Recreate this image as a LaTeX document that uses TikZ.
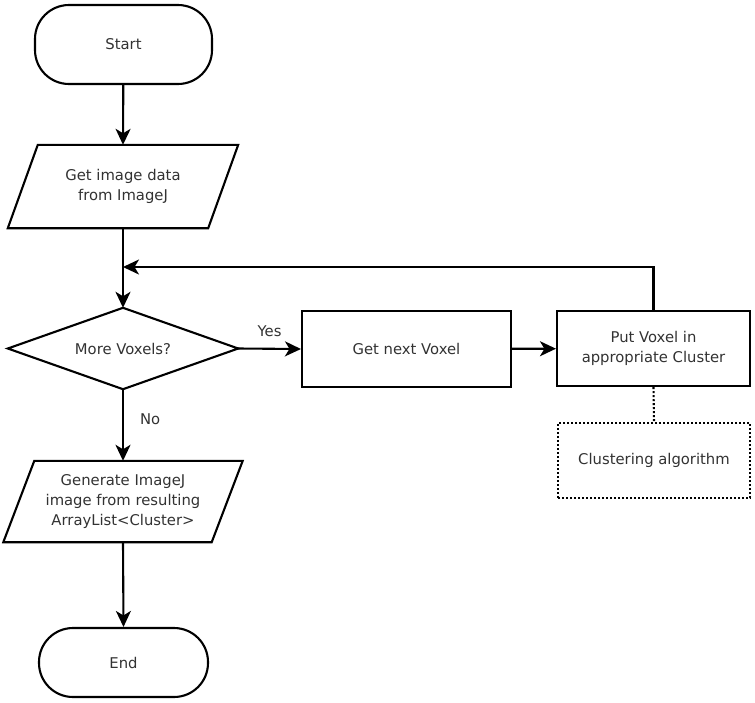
\documentclass[tikz,border=0pt]{standalone}
\usepackage{fontspec}
\setmainfont{DejaVu Sans}
\usetikzlibrary{arrows.meta,calc}
\definecolor{txt}{RGB}{50,50,50}
\tikzset{
  base/.style={font=\fontsize{14.8}{19.8}\selectfont, text=txt, align=center, inner sep=0pt},
  term/.style={base, draw, line width=2.1pt, rounded corners=34pt},
  proc/.style={base, draw, line width=2.1pt},
  hidden/.style={base, draw=none},
  dotbox/.style={base, draw, line width=2.1pt, dash pattern=on 2pt off 2pt},
  flow/.style={line width=2.1pt, -{Stealth[length=16pt,width=15pt,inset=4.5pt]}},
  lbl/.style={font=\fontsize{14.8}{19.8}\selectfont, text=txt, inner sep=0pt}
}
\begin{document}
\begin{tikzpicture}[x=1pt,y=-1pt]
\useasboundingbox (0,0) rectangle (755,702);
% nodes
\node[term, minimum width=177pt, minimum height=79pt] (start) at (123.5,44.5) {Start};
\node[hidden, minimum width=200pt, minimum height=83pt] (get) at (123,186.5) {Get image data\\from ImageJ};
\node[hidden, minimum width=230pt, minimum height=81pt] (more) at (123,348.5) {More Voxels?};
\node[proc, minimum width=209pt, minimum height=76pt] (next) at (406.5,349) {Get next Voxel};
\node[proc, minimum width=193pt, minimum height=75pt] (put) at (653.5,348.5) {Put Voxel in\\appropriate Cluster};
\node[dotbox, minimum width=192pt, minimum height=75pt] (clus) at (654,460.5) {Clustering algorithm};
\node[hidden, minimum width=208pt, minimum height=81pt] (gen) at (123,501.5) {Generate ImageJ\\image from resulting\\ArrayList<Cluster>};
\node[term, minimum width=169pt, minimum height=69pt] (end) at (123.5,662.5) {End};
% shapes
\draw[line width=2.1pt, line join=miter]
  ([xshift=15pt]get.north west) -- ([xshift=15pt]get.north east)
  -- ([xshift=-15pt]get.south east) -- ([xshift=-15pt]get.south west) -- cycle;
\draw[line width=2.1pt, line join=miter]
  (more.north) -- (more.east) -- (more.south) -- (more.west) -- cycle;
\draw[line width=2.1pt, line join=miter]
  ([xshift=15.5pt]gen.north west) -- ([xshift=15.5pt]gen.north east)
  -- ([xshift=-15.5pt]gen.south east) -- ([xshift=-15.5pt]gen.south west) -- cycle;
% connectors
\coordinate (loopin) at (123,267);
\draw[flow] (start) -- (get.north);
\draw[flow] (get.south) -- (more.north);
\draw[flow] (more.east) -- node[lbl, above=11pt] {Yes} (next.west);
\draw[flow] (next) -- (put);
\draw[flow] (put.north) |- (loopin);
\draw[flow] (more.south) -- node[lbl, right=16pt, pos=0.42] {No} (gen.north);
\draw[flow] (gen.south) -- (end.north);
\draw[line width=2.1pt, dash pattern=on 2pt off 2pt] (put.south) -- (clus.north);
\end{tikzpicture}
\end{document}
